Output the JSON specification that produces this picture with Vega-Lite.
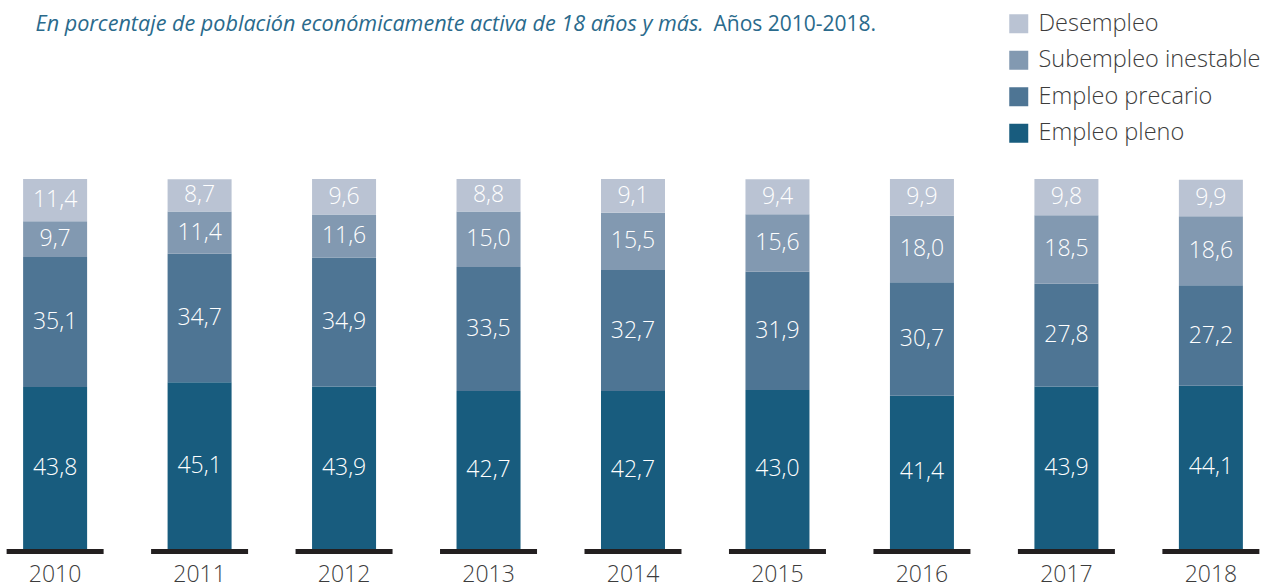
{
  "$schema": "https://vega.github.io/schema/vega-lite/v6.json",
  "width": 1266,
  "height": 370,
  "autosize": {"type": "none"},
  "padding": {"left": 0, "top": 179, "right": 0, "bottom": 38},
  "background": "white",
  "config": {
    "font": "Open Sans",
    "view": {"stroke": null},
    "locale": {"number": {"decimal": ",", "thousands": ".", "grouping": [3], "currency": ["", " €"]}}
  },
  "data": {
    "values": [
      {"year": "2010", "cat": "Empleo pleno", "value": 43.8},
      {"year": "2010", "cat": "Empleo precario", "value": 35.1},
      {"year": "2010", "cat": "Subempleo inestable", "value": 9.7},
      {"year": "2010", "cat": "Desempleo", "value": 11.4},
      {"year": "2011", "cat": "Empleo pleno", "value": 45.1},
      {"year": "2011", "cat": "Empleo precario", "value": 34.7},
      {"year": "2011", "cat": "Subempleo inestable", "value": 11.4},
      {"year": "2011", "cat": "Desempleo", "value": 8.7},
      {"year": "2012", "cat": "Empleo pleno", "value": 43.9},
      {"year": "2012", "cat": "Empleo precario", "value": 34.9},
      {"year": "2012", "cat": "Subempleo inestable", "value": 11.6},
      {"year": "2012", "cat": "Desempleo", "value": 9.6},
      {"year": "2013", "cat": "Empleo pleno", "value": 42.7},
      {"year": "2013", "cat": "Empleo precario", "value": 33.5},
      {"year": "2013", "cat": "Subempleo inestable", "value": 15.0},
      {"year": "2013", "cat": "Desempleo", "value": 8.8},
      {"year": "2014", "cat": "Empleo pleno", "value": 42.7},
      {"year": "2014", "cat": "Empleo precario", "value": 32.7},
      {"year": "2014", "cat": "Subempleo inestable", "value": 15.5},
      {"year": "2014", "cat": "Desempleo", "value": 9.1},
      {"year": "2015", "cat": "Empleo pleno", "value": 43.0},
      {"year": "2015", "cat": "Empleo precario", "value": 31.9},
      {"year": "2015", "cat": "Subempleo inestable", "value": 15.6},
      {"year": "2015", "cat": "Desempleo", "value": 9.4},
      {"year": "2016", "cat": "Empleo pleno", "value": 41.4},
      {"year": "2016", "cat": "Empleo precario", "value": 30.7},
      {"year": "2016", "cat": "Subempleo inestable", "value": 18.0},
      {"year": "2016", "cat": "Desempleo", "value": 9.9},
      {"year": "2017", "cat": "Empleo pleno", "value": 43.9},
      {"year": "2017", "cat": "Empleo precario", "value": 27.8},
      {"year": "2017", "cat": "Subempleo inestable", "value": 18.5},
      {"year": "2017", "cat": "Desempleo", "value": 9.8},
      {"year": "2018", "cat": "Empleo pleno", "value": 44.1},
      {"year": "2018", "cat": "Empleo precario", "value": 27.2},
      {"year": "2018", "cat": "Subempleo inestable", "value": 18.6},
      {"year": "2018", "cat": "Desempleo", "value": 9.9}
    ]
  },
  "transform": [
    {"calculate": "indexof(['Empleo pleno','Empleo precario','Subempleo inestable','Desempleo'], datum.cat)", "as": "k"},
    {"stack": "value", "groupby": ["year"], "sort": [{"field": "k", "order": "ascending"}], "as": ["y0", "y1"]},
    {"calculate": "(datum.y0 + datum.y1) / 2", "as": "mid"}
  ],
  "resolve": {"axis": {"x": "independent", "y": "independent"}},
  "layer": [
    {
      "mark": {"type": "bar"},
      "encoding": {
        "x": {
          "field": "year", "type": "nominal",
          "scale": {"paddingInner": 0.557, "paddingOuter": 0.16},
          "axis": {
            "orient": "bottom", "title": null, "domain": false, "ticks": false,
            "labelFontSize": 23, "labelFontWeight": 300, "labelColor": "#3c3c3c", "labelPadding": 14, "labelAngle": 0
          }
        },
        "y": {
          "field": "y0", "type": "quantitative",
          "scale": {"domain": [0, 100], "nice": false},
          "axis": {
            "title": "En porcentaje de población económicamente activa de 18 años y más.",
            "labels": false, "ticks": false, "domain": false, "grid": false,
            "titleAngle": 0, "titleX": 35, "titleY": -149, "titleAlign": "left",
            "titleBaseline": "alphabetic", "titleFontStyle": "italic", "titleFontWeight": 400,
            "titleFontSize": 21.6, "titleColor": "#2a6a8c", "titleFont": "Open Sans"
          }
        },
        "y2": {"field": "y1"},
        "color": {
          "field": "cat", "type": "nominal",
          "scale": {
            "domain": ["Desempleo", "Subempleo inestable", "Empleo precario", "Empleo pleno"],
            "range": ["#bac3d3", "#8299b1", "#4e7594", "#185c7e"]
          },
          "legend": {
            "title": null, "orient": "none", "legendX": 1007, "legendY": -167,
            "padding": 0, "symbolType": "square", "symbolSize": 361, "symbolStrokeWidth": 0,
            "labelFontSize": 23.5, "labelFontWeight": 300, "labelColor": "#3c3c3c", "labelOffset": 8, "rowPadding": 11.5,
            "labelLimit": 400
          }
        }
      }
    },
    {
      "transform": [{"filter": "datum.cat === 'Empleo pleno'"}],
      "mark": {"type": "tick", "size": 97, "thickness": 5, "color": "#231f20", "yOffset": 2.5, "opacity": 1},
      "encoding": {
        "x": {"field": "year", "type": "nominal", "axis": null},
        "y": {"datum": 0, "type": "quantitative", "axis": null}
      }
    },
    {
      "mark": {"type": "text", "color": "white", "fontSize": 23, "fontWeight": 300, "baseline": "middle", "align": "center"},
      "encoding": {
        "x": {
          "field": "year", "type": "nominal",
          "axis": {
            "orient": "top", "title": "Años 2010-2018.", "labels": false, "ticks": false, "domain": false,
            "titleX": 713, "titleY": -149, "titleAlign": "left", "titleAnchor": "start",
            "titleBaseline": "alphabetic", "titleFontStyle": "normal", "titleFontWeight": 400,
            "titleFontSize": 21, "titleColor": "#2a6a8c", "titleFont": "Open Sans"
          }
        },
        "y": {"field": "mid", "type": "quantitative", "axis": null},
        "text": {"field": "value", "type": "quantitative", "format": ".1f"}
      }
    }
  ]
}
